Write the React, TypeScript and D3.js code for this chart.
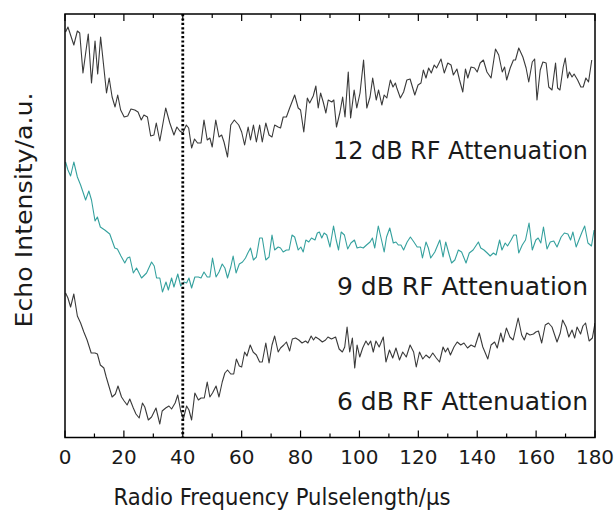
import React from "react";
import * as d3 from "d3";

// Echo intensity (a.u.) against RF pulse length (µs) for three attenuation settings.
// Curves are stacked vertically on a shared arbitrary intensity axis.
const echo12dB: [number, number][] = [
  [0.2, 40.0], [1, 40.5], [3, 38.7], [4.2, 40.1], [5, 39.9], [6.1, 35.9], [7.9, 39.8], [9, 34.9],
  [10.2, 39.1], [11.1, 35.8], [12.1, 39.5], [14.1, 33.9], [15, 35.4], [16, 33.5], [17, 32.5],
  [17.9, 33.7], [18.9, 32.2], [20.1, 31.5], [21.3, 31.6], [22.4, 32.3], [23.7, 32.2], [24.8, 32.0],
  [25.9, 31.2], [26.8, 31.7], [28, 31.5], [29.1, 29.6], [30.2, 29.7], [31, 30.9], [32.2, 29.1],
  [34.2, 32.4], [35.6, 30.9], [37, 29.7], [38, 30.5], [39, 30.1], [40, 29.9], [41.2, 30.7],
  [42, 30.4], [43, 28.4], [44, 29.3], [45, 28.9], [46.2, 28.9], [47.2, 31.2], [48.3, 29.2],
  [49.2, 29.4], [50, 28.5], [51.2, 31.2], [52.3, 29.5], [53.2, 29.7], [54, 29.0], [55.2, 27.5],
  [56.3, 30.7], [57.5, 31.2], [59, 30.7], [60, 30.0], [61, 28.7], [62.2, 30.5], [63, 29.2],
  [64, 30.7], [65, 29.0], [66.1, 30.7], [67, 29.0], [68.2, 30.9], [69.3, 29.7], [70.3, 29.5],
  [71.2, 30.7], [72.4, 30.5], [73.2, 30.4], [74.1, 31.5], [75.2, 31.5], [76.3, 32.4], [78, 33.7],
  [79.2, 32.4], [80, 32.2], [81.1, 30.0], [82.3, 33.4], [83.1, 32.9], [84.3, 33.6], [85.2, 34.6],
  [86, 32.4], [86.8, 33.9], [87.7, 33.0], [88.6, 31.9], [89.4, 33.2], [90.6, 33.0], [91.3, 33.2],
  [92.2, 30.5], [93.4, 32.0], [94.3, 33.5], [95.1, 31.5], [96.2, 36.0], [97, 31.4], [98.2, 34.2],
  [99.1, 32.4], [100.2, 33.9], [101.4, 37.2], [102.5, 32.4], [103.6, 33.5], [104.5, 35.4],
  [105.7, 33.2], [106.5, 34.2], [107.6, 32.7], [108.4, 33.7], [109.3, 33.4], [110.5, 35.2],
  [111.4, 34.5], [112.2, 34.9], [112.7, 34.4], [113.9, 33.4], [115, 34.0], [116.1, 35.2],
  [117.2, 35.3], [118.8, 33.7], [119.9, 34.7], [120.9, 34.9], [121.7, 36.2], [122.6, 35.4],
  [123.5, 36.4], [124.4, 35.9], [125.4, 36.7], [126.2, 36.4], [127.7, 37.3], [128.8, 35.9],
  [130, 36.9], [131.1, 36.7], [131.9, 35.7], [133.1, 36.3], [134, 35.2], [135.1, 34.0],
  [136, 36.3], [136.8, 35.4], [137.9, 36.5], [139.1, 36.4], [140, 36.0], [141, 36.9],
  [142.1, 37.2], [143.3, 36.0], [144.7, 35.4], [146.2, 38.3], [147.3, 37.7], [148.5, 36.0],
  [149.3, 36.5], [150, 35.2], [151.2, 36.4], [152.3, 37.2], [153, 37.2], [154.1, 38.4],
  [155.5, 37.5], [156.6, 36.4], [157.5, 35.0], [158.7, 37.0], [159.5, 37.3], [160.3, 33.2],
  [161.4, 36.2], [162.3, 37.0], [163.4, 36.9], [164.3, 34.5], [165.4, 34.2], [166.6, 36.9],
  [167.3, 34.4], [168.1, 34.2], [169.2, 36.5], [169.9, 37.4], [170.7, 35.4], [171.3, 36.0],
  [172.2, 35.5], [172.9, 35.8], [174.1, 35.2], [175.2, 34.5], [176, 34.5], [176.9, 35.4],
  [177.8, 35.0], [178.9, 37.2],
];

const echo9dB: [number, number][] = [
  [0.2, 27.0], [1, 26.2], [1.9, 25.6], [3, 27.0], [4.2, 25.5], [5.3, 24.7], [6.1, 24.0], [7, 23.2],
  [8.1, 24.1], [9, 23.2], [10.2, 21.1], [11, 21.5], [12, 20.5], [13.5, 20.2], [15.2, 19.8],
  [16.9, 18.4], [17.8, 18.3], [19, 17.6], [20.3, 16.9], [21.2, 17.4], [22, 17.5], [23.2, 15.9],
  [24.3, 16.4], [26, 15.4], [27.7, 15.9], [29.4, 17.0], [30.3, 16.6], [31.1, 15.4], [32.2, 15.4],
  [33.1, 14.0], [34.3, 15.0], [35.1, 14.2], [36.2, 15.4], [37, 14.5], [38.3, 15.8], [39.3, 14.6],
  [40.4, 15.0], [41.3, 14.9], [42.1, 15.4], [43, 14.4], [44.1, 15.5], [45.3, 15.5], [46.2, 15.4],
  [47.2, 16.0], [48.3, 15.5], [49.2, 15.5], [50.1, 17.4], [51.3, 15.5], [52.3, 16.0], [53.4, 16.8],
  [54.3, 16.4], [55.2, 15.4], [56.3, 16.5], [57.1, 17.6], [58.1, 15.9], [59.2, 16.8], [60.3, 17.0],
  [61.3, 17.4], [62.1, 17.9], [63, 18.4], [64, 17.2], [65, 17.5], [66.1, 19.4], [67, 19.4],
  [68.2, 17.2], [69.3, 17.5], [70.3, 19.7], [71.2, 18.2], [72.4, 18.5], [73.2, 18.4], [74.1, 18.0],
  [75.2, 18.2], [76.1, 18.2], [77.1, 19.7], [78, 19.5], [79.2, 18.2], [80.1, 18.5], [80.9, 18.0],
  [81.8, 19.2], [82.8, 19.0], [83.7, 19.4], [84.9, 19.2], [85.7, 19.9], [86.4, 20.0], [87.2, 19.4],
  [88, 19.9], [88.9, 19.7], [90, 18.5], [91.2, 20.6], [92.1, 19.2], [92.9, 18.2], [93.8, 20.0],
  [94.9, 19.7], [96, 18.3], [97.1, 18.9], [98.3, 19.2], [99.2, 18.4], [100.3, 18.5], [101.3, 18.4],
  [102.4, 18.7], [103.6, 19.0], [104.4, 19.4], [105.2, 18.4], [106.4, 20.6], [107.5, 19.2],
  [108.4, 18.0], [109.2, 19.5], [110.3, 20.4], [111.5, 18.9], [112.4, 19.0], [113.2, 18.7],
  [114.1, 18.7], [115, 18.2], [116.2, 19.0], [117.3, 19.5], [118.5, 19.0], [119.6, 18.5],
  [120.7, 18.5], [121.4, 17.4], [122.6, 19.0], [123.4, 18.4], [124.2, 17.4], [125.6, 18.0],
  [127.3, 19.2], [128.4, 17.5], [129.3, 19.0], [130.5, 17.7], [131.3, 16.9], [132.4, 17.2],
  [133.6, 18.2], [134.7, 18.0], [136.2, 16.9], [137.3, 17.9], [138.6, 18.2], [140.4, 19.0],
  [141.2, 18.4], [142.3, 18.2], [143.4, 17.9], [144.4, 17.6], [145.5, 17.9], [146.4, 17.7],
  [147.6, 19.2], [148.4, 18.2], [149.5, 18.9], [150.3, 18.6], [151.5, 19.2], [152.4, 19.7],
  [153.3, 19.7], [154.1, 17.9], [155.3, 18.7], [156.4, 19.2], [157.6, 20.9], [158.7, 18.2],
  [159.9, 19.2], [160.7, 19.4], [161.6, 18.9], [162.5, 20.5], [163.7, 18.3], [164.8, 19.0],
  [166, 19.1], [167.1, 18.5], [168.5, 19.5], [169.6, 19.9], [170.8, 19.8], [171.7, 19.2],
  [172.5, 20.0], [173.6, 18.5], [174.8, 19.4], [175.6, 20.0], [176.5, 20.6], [177.6, 18.9],
  [178.8, 18.6], [179.7, 20.2],
];

const echo6dB: [number, number][] = [
  [0.2, 13.9], [1, 13.4], [1.9, 12.5], [3, 13.8], [4.2, 11.6], [5.3, 10.9], [6.4, 10.0], [7.5, 9.2],
  [8.9, 7.9], [10.2, 7.9], [11, 7.8], [12, 6.7], [13.2, 6.4], [14, 5.5], [15, 4.5], [16, 3.5],
  [17.1, 3.8], [18, 4.6], [19.2, 3.5], [20.1, 3.1], [21.1, 2.7], [22, 3.3], [23.2, 2.4], [24.1, 1.8],
  [25.2, 1.4], [26.3, 2.9], [27.1, 2.5], [28.3, 1.2], [29.4, 1.5], [30.9, 2.4], [32.2, 0.8],
  [33, 2.1], [34.2, 2.4], [35.3, 2.6], [36.2, 2.3], [37.4, 2.9], [38.3, 3.7], [39.3, 2.1],
  [40.2, 1.3], [41.3, 2.6], [42.1, 2.2], [43, 1.2], [44.1, 3.9], [45.3, 3.2], [46.2, 3.4],
  [47.3, 3.4], [48.3, 5.0], [49.2, 3.5], [50.1, 3.9], [51.3, 4.6], [52.3, 3.5], [53.4, 5.0],
  [54.3, 5.9], [55.2, 6.2], [56.3, 5.8], [57.3, 5.8], [58.2, 7.3], [59.2, 6.6], [60, 6.5], [61, 8.0],
  [61.8, 7.6], [62.9, 8.7], [63.9, 8.0], [65, 7.7], [66.1, 7.0], [67, 7.0], [68.2, 8.9], [69.3, 6.9],
  [70.3, 8.7], [71.2, 9.6], [72.4, 8.0], [73.2, 8.4], [74.3, 8.7], [75.2, 9.0], [76.3, 8.1],
  [77.2, 9.3], [78.3, 9.4], [79.4, 9.2], [80.5, 8.9], [81.7, 9.1], [82.5, 8.9], [83.6, 9.6],
  [84.4, 9.2], [85.1, 9.5], [86.2, 9.3], [87.4, 9.0], [88.5, 9.2], [89.3, 9.5], [90.5, 9.3],
  [91.9, 9.5], [93.1, 8.3], [94.2, 8.0], [95, 8.5], [95.8, 10.5], [96.7, 8.0], [97.6, 9.4],
  [98.4, 6.4], [99.2, 8.7], [100.1, 7.5], [101.1, 8.4], [102.2, 9.1], [103, 8.7], [103.8, 9.1],
  [104.7, 8.0], [105.6, 9.1], [106.7, 8.5], [108.1, 9.5], [109, 7.0], [110.2, 8.2], [111.3, 7.4],
  [112.4, 8.4], [113.6, 7.2], [114.7, 8.0], [115.9, 7.5], [117.2, 8.7], [118.4, 8.0], [119.3, 6.5],
  [120.4, 8.0], [121.5, 7.3], [122.6, 7.7], [123.8, 7.4], [124.9, 7.9], [126.1, 7.4], [127.2, 7.0],
  [128.4, 8.5], [129.2, 8.0], [130, 8.4], [130.9, 7.7], [132.1, 8.5], [133.2, 9.0], [134.4, 8.7],
  [135.5, 8.9], [136.7, 8.4], [137.9, 8.7], [139.2, 8.5], [140.7, 9.9], [141.9, 8.5], [143.6, 7.3],
  [144.7, 8.7], [145.9, 9.0], [146.8, 8.4], [148, 9.9], [148.8, 9.0], [149.9, 10.4], [151.1, 9.5],
  [152.2, 9.2], [153.9, 11.4], [155.1, 9.7], [156, 9.2], [156.8, 9.9], [157.9, 9.7], [159.1, 9.8],
  [159.9, 10.0], [160.8, 10.1], [161.9, 8.9], [163.1, 10.7], [164.2, 10.9], [165.4, 10.5],
  [167.1, 9.0], [168.2, 9.9], [169, 11.2], [170.2, 10.5], [171.1, 9.5], [172.2, 10.2], [173.1, 9.4],
  [173.9, 10.5], [175.1, 9.8], [175.9, 10.6], [176.8, 10.9], [178, 9.1], [179.1, 9.4], [180, 10.9],
];

const seriesLabels = ["12 dB RF Attenuation", "9 dB RF Attenuation", "6 dB RF Attenuation"];
const seriesColors = ["#3a3a3a", "#35a19e", "#3a3a3a"];
// where each curve's label sits, in intensity units
const labelLevels = [27.3, 13.7, 2.2];
const labelWidths = [255, 251, 251];
const majorTicks = [0, 20, 40, 60, 80, 100, 120, 140, 160, 180];
const minorTicks = [10, 30, 50, 70, 90, 110, 130, 150, 170];
const markerPulse = 40;
const xDomain: [number, number] = [0, 180];
const yDomain: [number, number] = [-0.55, 41.8];

const W = 614;
const H = 512;
const margin = { left: 65, right: 19, top: 14, bottom: 74.5 };
const FONT = "'DejaVu Sans', sans-serif";

export default function App() {
  const x = d3.scaleLinear().domain(xDomain).range([margin.left, W - margin.right]);
  const y = d3.scaleLinear().domain(yDomain).range([H - margin.bottom, margin.top]);
  const line = d3
    .line<[number, number]>()
    .x((d) => x(d[0]))
    .y((d) => y(d[1]));

  const series = [echo12dB, echo9dB, echo6dB];
  const top = y(yDomain[1]);
  const bottom = y(yDomain[0]);
  const left = x(xDomain[0]);
  const right = x(xDomain[1]);

  return (
    <svg width={W} height={H} style={{ position: "absolute", left: 0, top: 0, background: "#fff" }}>
      <defs>
        <clipPath id="plot-area">
          <rect x={left} y={top} width={right - left} height={bottom - top} />
        </clipPath>
      </defs>
      <g clipPath="url(#plot-area)">
        {series.map((s, i) => (
          <path key={i} d={line(s) ?? ""} fill="none" stroke={seriesColors[i]} strokeWidth={1.1} strokeLinejoin="round" />
        ))}
      </g>
      <line
        x1={x(markerPulse)}
        x2={x(markerPulse)}
        y1={top}
        y2={bottom}
        stroke="#000"
        strokeWidth={2.8}
        strokeDasharray="2.2 2.2"
      />
      {seriesLabels.map((t, i) => (
        <text
          key={t}
          x={588}
          y={y(labelLevels[i])}
          textAnchor="end"
          fontFamily={FONT}
          fontSize={24}
          fill="#1a1a1a"
          textLength={labelWidths[i]}
          lengthAdjust="spacingAndGlyphs"
        >
          {t}
        </text>
      ))}
      {/* frame */}
      <rect x={left} y={top} width={right - left} height={bottom - top} fill="none" stroke="#000" strokeWidth={1.5} />
      {majorTicks.map((t) => (
        <g key={"M" + t}>
          <line x1={x(t)} x2={x(t)} y1={bottom} y2={bottom - 7} stroke="#000" strokeWidth={1.2} />
          <line x1={x(t)} x2={x(t)} y1={top} y2={top + 7} stroke="#000" strokeWidth={1.2} />
          <text x={x(t)} y={bottom + 26} textAnchor="middle" fontFamily={FONT} fontSize={20} fill="#1a1a1a">
            {t}
          </text>
        </g>
      ))}
      {minorTicks.map((t) => (
        <g key={"m" + t}>
          <line x1={x(t)} x2={x(t)} y1={bottom} y2={bottom - 4} stroke="#000" strokeWidth={1.2} />
          <line x1={x(t)} x2={x(t)} y1={top} y2={top + 4} stroke="#000" strokeWidth={1.2} />
        </g>
      ))}
      <text
        x={(left + right) / 2 - 48}
        y={505}
        textAnchor="middle"
        fontFamily={FONT}
        fontSize={23}
        fill="#1a1a1a"
        textLength={337}
        lengthAdjust="spacingAndGlyphs"
      >
        Radio Frequency Pulselength/µs
      </text>
      <text
        transform="translate(32,210) rotate(-90)"
        textAnchor="middle"
        fontFamily={FONT}
        fontSize={23}
        fill="#1a1a1a"
        textLength={235}
        lengthAdjust="spacingAndGlyphs"
      >
        Echo Intensity/a.u.
      </text>
    </svg>
  );
}
